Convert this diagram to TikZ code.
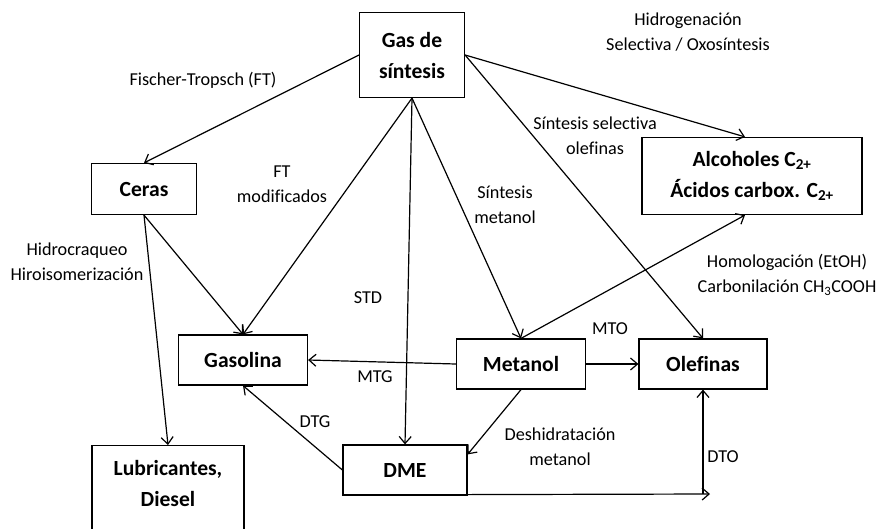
\documentclass[tikz,border=0pt]{standalone}
\usepackage{fontspec}
\setmainfont{Carlito}[Ligatures=NoCommon]
\usetikzlibrary{arrows.meta}

\tikzset{
  box/.style={draw, line width=1.2pt, align=center, inner sep=0pt,
    font=\fontsize{21.6}{31}\selectfont\bfseries},
  lbl/.style={align=center, inner sep=0pt, font=\fontsize{18.2}{25}\selectfont},
  arr/.style={line width=1.2pt, -{Straight Barb[length=7pt,width=12pt]}}
}

\begin{document}
\begin{tikzpicture}[x=1pt, y=-1pt]

  \path[use as bounding box] (0,0) rectangle (880,528);
  \clip (0,0) rectangle (880,528);

  % boxes
  \node[box, minimum width=105, minimum height=85] (gas) at (412,55) {Gas de\\síntesis};
  \node[box, minimum width=105, minimum height=51] (ceras) at (144,189) {Ceras};
  \node[box, minimum width=220, minimum height=77] (alc) at (752,176)
    {Alcoholes C\textsubscript{2+}\\Ácidos carbox. C\textsubscript{2+}};
  \node[box, minimum width=129, minimum height=50] (gasolina) at (243,360) {Gasolina};
  \node[box, minimum width=129, minimum height=50] (metanol) at (521,364) {Metanol};
  \node[box, minimum width=128, minimum height=50] (olefinas) at (703,364) {Olefinas};
  \node[box, minimum width=124, minimum height=50] (dme) at (405,470) {DME};
  \node[box, minimum width=152, minimum height=95, anchor=north] (lub) at (168,445) {};
  \node[box, draw=none] (lubtxt) at (168,483) {Lubricantes,\\Diesel};
  \coordinate (dto) at (710,494);

  % connectors
  \draw[arr] (gas.west) -- (ceras.north);
  \draw[arr] (gas.south) -- (gasolina.north);
  \draw[arr] (gas.south) -- (dme.north);
  \draw[arr] (gas.south) -- (metanol.north);
  \draw[arr] (gas.east) -- (olefinas.north);
  \draw[arr] (gas.east) -- ([xshift=-7pt]alc.north);
  \draw[arr] (ceras.south) -- (gasolina.north);
  \draw[arr] (ceras.south) -- (lub.north);
  \draw[arr] (metanol.north) -- ([xshift=-7pt]alc.south);
  \draw[arr] (metanol.west) -- (gasolina.east);
  \draw[arr] (metanol.east) -- (olefinas.west);
  \draw[arr] (metanol.south) -- ([yshift=-10pt]dme.north east);
  \draw[arr] (dme.west) -- (gasolina.south);
  \draw[arr] ([yshift=1pt]dme.south east) -- (dto);
  \draw[arr] (olefinas.south |- dto) -- (olefinas.south);

  % labels
  \node[lbl] (lft) at (203,80) {Fischer-Tropsch (FT)};
  \node[lbl] (lftm) at (282,184) {FT\\modificados};
  \node[lbl] (lhid) at (77,262) {Hidrocraqueo\\Hiroisomerización};
  \node[lbl] (lstd) at (368,298) {STD};
  \node[lbl] (lsm) at (505,205) {Síntesis\\metanol};
  \node[lbl] (lsso) at (595,136) {Síntesis selectiva\\olefinas};
  \node[lbl] (lhs) at (688,32) {Hidrogenación\\Selectiva / Oxosíntesis};
  \node[lbl] (lhom) at (787,275) {Homologación (EtOH)\\Carbonilación CH\textsubscript{3}COOH};
  \node[lbl] (lmto) at (610,329) {MTO};
  \node[lbl] (lmtg) at (375,377) {MTG};
  \node[lbl] (ldtg) at (315,422) {DTG};
  \node[lbl] (ldes) at (560,447) {Deshidratación\\metanol};
  \node[lbl] (ldto) at (723,457) {DTO};

\end{tikzpicture}
\end{document}
